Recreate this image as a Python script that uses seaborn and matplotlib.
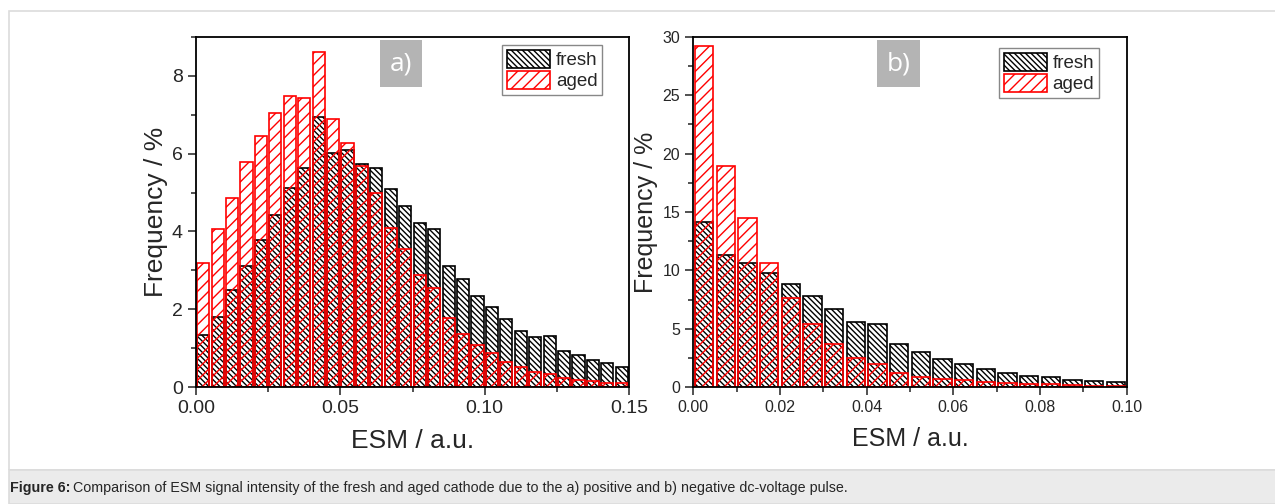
import numpy as np
import pandas as pd
import seaborn as sns
import matplotlib.pyplot as plt
from matplotlib.patches import Patch, Rectangle
from matplotlib.ticker import MultipleLocator

sns.set_style('ticks')
plt.rcParams['font.family'] = ['Liberation Sans', 'DejaVu Sans']
plt.rcParams['hatch.linewidth'] = 1.0

# bin centres (ESM / a.u.), bin width 0.005
esm_a = np.round(0.0025 + 0.005 * np.arange(30), 4)
esm_b = np.round(0.0025 + 0.005 * np.arange(20), 4)

# panel a) positive pulse, frequency in %
fresh_a = [1.34, 1.81, 2.50, 3.12, 3.77, 4.42, 5.12, 5.62, 6.93, 6.02,
           6.09, 5.72, 5.62, 5.09, 4.66, 4.21, 4.06, 3.11, 2.77, 2.34,
           2.06, 1.76, 1.45, 1.28, 1.31, 0.93, 0.84, 0.71, 0.63, 0.51]
aged_a = [3.18, 4.06, 4.85, 5.78, 6.44, 7.04, 7.49, 7.43, 8.60, 6.89,
          6.28, 5.69, 4.98, 4.08, 3.55, 2.87, 2.56, 1.77, 1.36, 1.08,
          0.88, 0.64, 0.51, 0.40, 0.33, 0.25, 0.20, 0.15, 0.12, 0.10]

# panel b) negative pulse
fresh_b = [14.11, 11.32, 10.64, 9.75, 8.81, 7.84, 6.67, 5.56, 5.42, 3.71,
           2.99, 2.40, 2.00, 1.54, 1.25, 1.00, 0.91, 0.66, 0.54, 0.43]
aged_b = [29.20, 18.96, 14.49, 10.67, 7.67, 5.42, 3.71, 2.51, 2.02, 1.20,
          0.86, 0.68, 0.63, 0.46, 0.34, 0.29, 0.26, 0.20, 0.14, 0.11]

W, H = 1275, 504
fig = plt.figure(figsize=(W / 100, H / 100), dpi=100)

# page frame and caption band
fig.patches.append(Rectangle((9 / W, 1 - 470 / H), 1.1, (470 - 10.7) / H,
                             transform=fig.transFigure, fc='none',
                             ec='#dcdcdc', lw=1.2, zorder=0))
fig.patches.append(Rectangle((9 / W, 0), 1.1, 34 / H,
                             transform=fig.transFigure, fc='#ebebeb',
                             ec='#dcdcdc', lw=1.2, zorder=0))

ax_a = fig.add_axes([196 / W, 1 - 387.3 / H, 433 / W, 350.6 / H])
ax_b = fig.add_axes([693.3 / W, 1 - 387.3 / H, 433.4 / W, 350.6 / H])


def draw_hist(ax, x, fresh, aged, width, xmax):
    df = pd.DataFrame({'esm': x, 'fresh': fresh, 'aged': aged})
    n0 = len(ax.patches)
    sns.histplot(data=df, x='esm', weights='fresh', binwidth=width,
                 binrange=(0, xmax), shrink=0.84, ax=ax)
    for p in ax.patches[n0:]:
        p.set_facecolor('white')
        p.set_edgecolor('black')
        p.set_hatch('\\\\\\\\\\\\')
        p.set_linewidth(1.2)
        p.set_alpha(1)
    n1 = len(ax.patches)
    sns.histplot(data=df, x='esm', weights='aged', binwidth=width,
                 binrange=(0, xmax), shrink=0.84, ax=ax)
    for p in ax.patches[n1:]:
        p.set_facecolor('none')
        p.set_edgecolor('red')
        p.set_hatch('///')
        p.set_linewidth(1.2)
        p.set_alpha(1)


def style_axes(ax, xmax, ymax, xmaj, xmin, ymaj, ymin, tick_fs, label_fs,
               panel, leg_anchor):
    ax.set_xlim(0, xmax)
    ax.set_ylim(0, ymax)
    ax.xaxis.set_major_locator(MultipleLocator(xmaj))
    ax.xaxis.set_minor_locator(MultipleLocator(xmin))
    ax.yaxis.set_major_locator(MultipleLocator(ymaj))
    ax.yaxis.set_minor_locator(MultipleLocator(ymin))
    ax.xaxis.set_major_formatter(lambda v, pos: f'{v:.2f}')
    ax.yaxis.set_major_formatter(lambda v, pos: f'{v:g}')
    ax.tick_params(which='major', direction='out', length=6, width=1.2,
                   labelsize=tick_fs, color='#333333')
    ax.tick_params(which='minor', direction='out', length=3.5, width=1.2,
                   color='#333333')
    for s in ax.spines.values():
        s.set_visible(True)
        s.set_color('black')
        s.set_linewidth(1.3)
    ax.set_xlabel('ESM / a.u.', fontsize=label_fs, labelpad=8)
    ax.set_ylabel('Frequency / %', fontsize=label_fs, labelpad=3)

    ax.add_patch(Rectangle((0.424, 0.857), 0.098, 0.133,
                           transform=ax.transAxes, fc='#b4b4b4', ec='none',
                           zorder=5))
    ax.text(0.473, 0.922, panel, transform=ax.transAxes, color='white',
            fontsize=19, ha='center', va='center', zorder=6,
            family=['Open Sans', 'DejaVu Sans'])

    handles = [Patch(facecolor='white', edgecolor='black',
                     hatch='\\\\\\\\\\\\', label='fresh', lw=1.2),
               Patch(facecolor='white', edgecolor='red', hatch='///',
                     label='aged', lw=1.2)]
    leg = ax.legend(handles=handles, loc='upper right',
                    bbox_to_anchor=leg_anchor, borderaxespad=0,
                    fontsize=13.5, handlelength=2.3, handleheight=1.1,
                    handletextpad=0.3, labelspacing=0.1, borderpad=0.25,
                    fancybox=False, framealpha=1, edgecolor='#888888')
    leg.get_frame().set_linewidth(1.0)


draw_hist(ax_a, esm_a, fresh_a, aged_a, 0.005, 0.15)
draw_hist(ax_b, esm_b, fresh_b, aged_b, 0.005, 0.10)

style_axes(ax_a, 0.15, 9, 0.05, 0.025, 2, 1, 14, 19, 'a)', (0.938, 0.976))
style_axes(ax_b, 0.10, 30, 0.02, 0.01, 5, 2.5, 11.5, 18, 'b)', (0.936, 0.968))

# caption
t1 = fig.text(10 / W, 1 - 488 / H, 'Figure 6:', fontsize=10.3, weight='bold',
              va='center')
fig.canvas.draw()
bb = t1.get_window_extent()
fig.text((bb.x1 + 3) / W, 1 - 488 / H,
         'Comparison of ESM signal intensity of the fresh and aged cathode '
         'due to the a) positive and b) negative dc-voltage pulse.',
         fontsize=10.3, va='center')

fig.savefig('out.png', dpi=100)
